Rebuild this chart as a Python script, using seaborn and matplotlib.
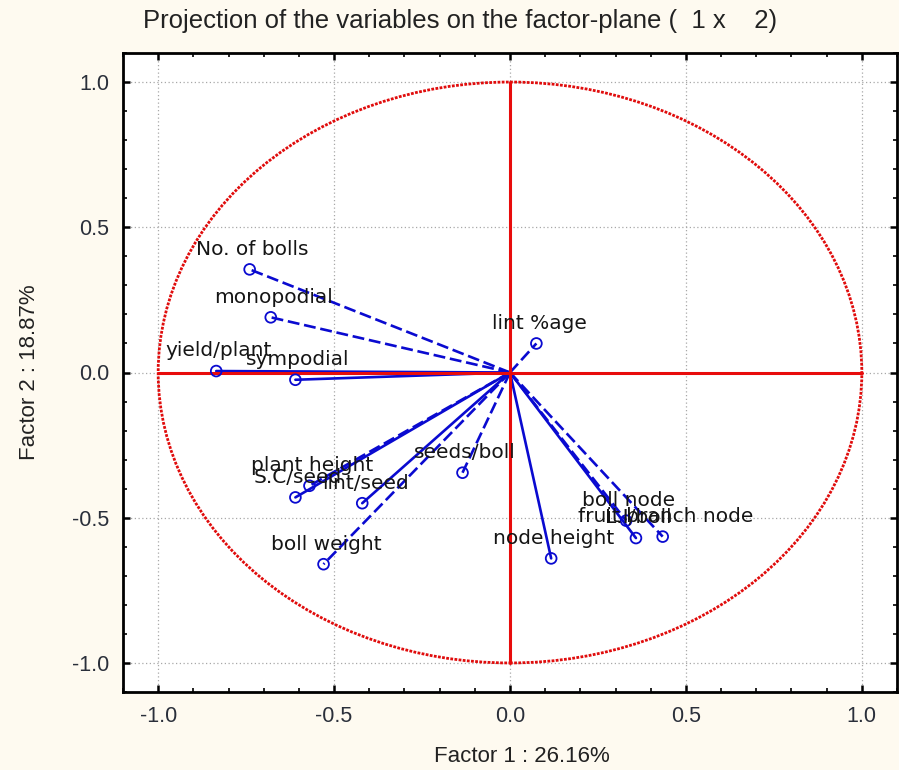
import matplotlib
matplotlib.use("Agg")
import matplotlib.pyplot as plt
import matplotlib.patches as mpatches
from matplotlib.ticker import MultipleLocator
import numpy as np
import pandas as pd
import seaborn as sns

# ---- data (factor loadings) ----
variables = ['No. of bolls', 'monopodial', 'yield/plant', 'sympodial', 'lint %age',
             'plant height', 'S.C/seed', 'lint/seed', 'seeds/boll', 'boll weight',
             'node height', 'boll node', 'fruit branch node', 'L.I/boll']
factor1 = [-0.74, -0.68, -0.835, -0.61, 0.075,
           -0.57, -0.61, -0.42, -0.135, -0.53,
           0.117, 0.33, 0.434, 0.358]
factor2 = [0.355, 0.19, 0.005, -0.025, 0.10,
           -0.39, -0.43, -0.45, -0.345, -0.66,
           -0.64, -0.51, -0.565, -0.57]
line_kind = ['dashed', 'dashed', 'solid', 'solid', 'dashed',
             'dashed', 'solid', 'solid', 'dashed', 'dashed',
             'solid', 'dashed', 'dashed', 'solid']
ticks = [-1.0, -0.5, 0.0, 0.5, 1.0]
tick_labels = ['-1.0', '-0.5', '0.0', '0.5', '1.0']

sns.set_style('ticks')
plt.rcParams['font.family'] = ['DejaVu Sans']

BG = '#FEFAF0'
BLUE = '#0A0AD0'
fig = plt.figure(figsize=(8.99, 7.70), dpi=100, facecolor=BG)
ax = fig.add_axes([123/899, 1-692/770, (897-123)/899, (692-53)/770])
ax.set_facecolor('white')

# lines from origin to each variable
rows = []
for v, x, y, k in zip(variables, factor1, factor2, line_kind):
    rows.append({'var': v, 'x': 0.0, 'y': 0.0, 'kind': k})
    rows.append({'var': v, 'x': x, 'y': y, 'kind': k})
lines_df = pd.DataFrame(rows)
sns.lineplot(data=lines_df, x='x', y='y', units='var', style='kind',
             dashes={'solid': '', 'dashed': (4.5, 1.8)}, estimator=None, sort=False,
             color=BLUE, linewidth=1.9, legend=False, ax=ax, zorder=3)

# unit circle and red axes
circle = mpatches.Circle((0, 0), 1.0, fill=False, edgecolor='#E00C0C',
                         linewidth=2.0, linestyle=(0, (1, 0.5)), zorder=4)
ax.add_patch(circle)
ax.plot([-1, 1], [0, 0], color='#E80C0C', lw=2.2, zorder=4)
ax.plot([0, 0], [-1, 1], color='#E80C0C', lw=2.2, zorder=4)

# points
pts_df = pd.DataFrame({'x': factor1, 'y': factor2, 'var': variables})
sns.scatterplot(data=pts_df, x='x', y='y', marker='o', s=60,
                facecolor='none', edgecolor=BLUE, linewidth=1.3,
                legend=False, ax=ax, zorder=5)

for v, x, y in zip(variables, factor1, factor2):
    ax.annotate(v, (x, y), xytext=(2, 14.5), textcoords='offset points',
                ha='center', va='center', fontsize=14.5, color='#151515',
                zorder=6)

ax.set_xlim(-1.1, 1.1)
ax.set_ylim(-1.1, 1.1)
ax.set_xticks(ticks)
ax.set_xticklabels(tick_labels)
ax.set_yticks(ticks)
ax.set_yticklabels(tick_labels)
ax.xaxis.set_minor_locator(MultipleLocator(0.1))
ax.yaxis.set_minor_locator(MultipleLocator(0.1))
ax.tick_params(which='both', direction='in', top=True, right=True,
               colors='black', labelcolor='#2a2f3a', labelsize=15.5)
ax.tick_params(which='major', length=5, width=1.8, pad=10)
ax.tick_params(which='minor', length=3, width=1.2)
for lab in ax.get_xticklabels() + ax.get_yticklabels():
    lab.set_family(['Liberation Sans', 'DejaVu Sans'])
ax.grid(True, which='major', linestyle=(0, (1, 2)), color='#a8a8a8', lw=0.9, zorder=0)
for s in ax.spines.values():
    s.set_linewidth(2.0)
    s.set_color('black')

ax.set_xlabel('')
ax.set_ylabel('')
cond = ['Liberation Sans Narrow', 'Liberation Sans', 'DejaVu Sans']
fig.text(460/899, 1-21/770, 'Projection of the variables on the factor-plane (  1 x    2)',
         ha='center', va='center', fontsize=18.5, color='#222222', family=cond)
fig.text(522/899, 1-757/770, 'Factor 1 : 26.16%', ha='center', va='center',
         fontsize=16, color='#222222', family=cond)
fig.text(30/899, 1-372/770, 'Factor 2 : 18.87%', ha='center', va='center',
         rotation=90, fontsize=16, color='#222222', family=cond)

fig.savefig('out.png', dpi=100, facecolor=BG)
